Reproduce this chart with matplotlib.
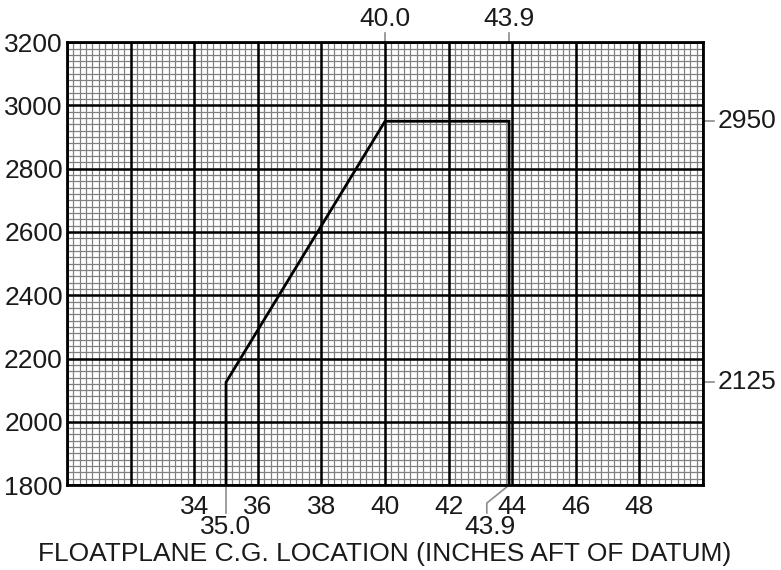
import matplotlib.pyplot as plt
import numpy as np

plt.rcParams['font.family'] = ['Liberation Sans', 'DejaVu Sans']

# envelope corners
cg_x = [35.0, 35.0, 40.0, 43.9, 43.9]
weight_y = [1800, 2125, 2950, 2950, 1800]

x_ticks = [34, 36, 38, 40, 42, 44, 46, 48]
y_ticks = [1800, 2000, 2200, 2400, 2600, 2800, 3000, 3200]
top_marks = [40.0, 43.9]
bottom_marks = [35.0, 43.9]
right_marks = [2950, 2125]

XMIN, XMAX = 30, 50
YMIN, YMAX = 1800, 3200
FS = 19
TXT = '#1a1a1a'

fig = plt.figure(figsize=(7.81, 5.70), dpi=100)
ax = fig.add_axes([0.0858, 0.149, 0.8144, 0.777])
ax.set_xlim(XMIN, XMAX)
ax.set_ylim(YMIN, YMAX)

# graph paper
for x in np.arange(XMIN, XMAX + 0.001, 0.2):
    ax.axvline(x, color='0.5', lw=0.9, zorder=1)
for y in np.arange(YMIN, YMAX + 0.001, 20):
    ax.axhline(y, color='0.5', lw=0.9, zorder=1)
for x in range(XMIN, XMAX + 1, 2):
    ax.axvline(x, color='black', lw=1.8, zorder=2)
for y in range(YMIN, YMAX + 1, 200):
    ax.axhline(y, color='black', lw=1.8, zorder=2)

ax.plot(cg_x, weight_y, color='black', lw=2, zorder=3, solid_joinstyle='miter')

for s in ax.spines.values():
    s.set_linewidth(2)

ax.set_xticks(x_ticks)
ax.set_yticks(y_ticks)
ax.tick_params(length=0, labelsize=FS, labelcolor=TXT)
ax.tick_params(axis='x', pad=7)
ax.tick_params(axis='y', pad=3)
ax.set_xlabel('FLOATPLANE C.G. LOCATION (INCHES AFT OF DATUM)', fontsize=FS,
              labelpad=17, color=TXT)

lead = dict(color='0.55', lw=1.2, clip_on=False)

# top callouts
for v in top_marks:
    ax.plot([v, v], [YMAX, YMAX + 28], **lead)
    ax.text(v, YMAX + 36, f'{v:.1f}', ha='center', va='bottom', fontsize=FS, color=TXT)

# bottom callouts
ax.plot([bottom_marks[0]] * 2, [YMIN, YMIN - 88], **lead)
ax.text(bottom_marks[0], YMIN - 94, f'{bottom_marks[0]:.1f}', ha='center', va='top',
        fontsize=FS, color=TXT)
ax.plot([bottom_marks[1], bottom_marks[1] - 0.7, bottom_marks[1] - 0.7],
        [YMIN, YMIN - 57, YMIN - 88], **lead)
ax.text(bottom_marks[1] - 0.6, YMIN - 94, f'{bottom_marks[1]:.1f}', ha='center', va='top',
        fontsize=FS, color=TXT)

# right callouts
for v in right_marks:
    ax.plot([XMAX, XMAX + 0.35], [v, v], **lead)
    ax.text(XMAX + 0.45, v, f'{v}', ha='left', va='center', fontsize=FS, color=TXT)

fig.savefig('out.png', dpi=100)
